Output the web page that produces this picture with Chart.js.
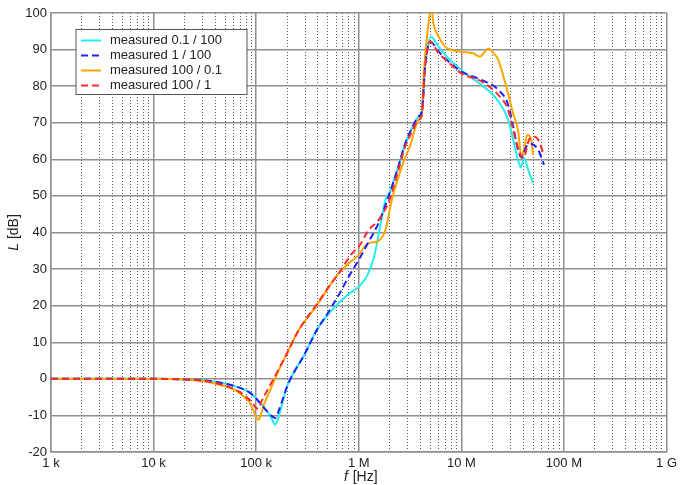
<!DOCTYPE html>
<html>
<head>
<meta charset="utf-8">
<script src="https://cdn.jsdelivr.net/npm/chart.js@4.4.1/dist/chart.umd.min.js"></script>
<style>
  html, body { margin: 0; padding: 0; background: #fff; }
</style>
</head>
<body>
<canvas id="chart" width="681" height="485"></canvas>
<script>
// series names
const seriesLabels = ['measured 0.1 / 100', 'measured 1 / 100', 'measured 100 / 0.1', 'measured 100 / 1'];

// measured 0.1 / 100 (frequency in Hz, level in dB)
const cyanFreq = [1e3, 1e4, 2e4, 3e4, 43.7e3, 63.5e3, 88e3, 106e3, 128e3, 142e3, 154e3, 165e3, 180e3, 200e3, 300e3, 391e3, 500e3, 640e3, 800e3, 1e6, 1.2e6, 1.4e6, 1.6e6, 1.82e6, 2e6, 2.4e6, 2.84e6, 3.3e6, 3.83e6, 4.12e6, 4.44e6, 5.08e6, 5.98e6, 7e6, 10e6, 15.7e6, 21.2e6, 28.6e6, 32e6, 35.7e6, 38e6, 40.9e6, 45e6, 50e6];
const cyanLevel = [0, 0, -0.15, -0.4, -1, -2.1, -3.9, -6.2, -8.9, -11, -12.5, -10.5, -6.6, -2.1, 7, 13.4, 17.5, 20.8, 23.2, 25.2, 28, 33, 41, 48.9, 51, 57.5, 64.4, 68.5, 71.7, 73, 86, 93.5, 90.8, 88.5, 84.4, 80.3, 77.1, 70.8, 65.3, 59.8, 57.8, 60.3, 57, 53.5];

// measured 1 / 100
const blueFreq = [1e3, 1e4, 2e4, 3e4, 43.7e3, 63.5e3, 88e3, 106e3, 128e3, 142e3, 154e3, 167e3, 182e3, 200e3, 300e3, 391e3, 500e3, 640e3, 800e3, 1e6, 1.25e6, 1.56e6, 1.95e6, 2.4e6, 2.84e6, 3.3e6, 3.83e6, 4.12e6, 4.44e6, 4.96e6, 6e6, 7e6, 10e6, 15.7e6, 22.9e6, 28.6e6, 32e6, 35.7e6, 38.5e6, 43e6, 48e6, 56e6, 64e6];
const blueLevel = [0, 0, -0.15, -0.4, -1, -2.1, -3.9, -6.2, -8.9, -10.2, -10.7, -8.5, -5.5, -2.1, 7, 13.4, 18, 23, 28, 32.5, 37.5, 42.6, 49.8, 57.5, 64.4, 68.5, 71.7, 73, 85.3, 92.2, 89.5, 87.5, 84, 81.7, 79, 74.9, 69, 62.6, 60.5, 63.5, 64.2, 62.6, 58.5];

// measured 100 / 0.1
const orangeFreq = [1e3, 1e4, 2e4, 3e4, 43.7e3, 63.5e3, 79e3, 88e3, 95e3, 100e3, 105e3, 110e3, 120e3, 133e3, 150e3, 167e3, 200e3, 261e3, 400e3, 512e3, 640e3, 800e3, 1e6, 1.17e6, 1.35e6, 1.51e6, 1.82e6, 2.1e6, 2.63e6, 3.18e6, 3.83e6, 4.12e6, 4.28e6, 4.78e6, 5.1e6, 5.35e6, 6e6, 6.95e6, 8.1e6, 10e6, 13e6, 15.2e6, 17e6, 18.3e6, 20e6, 22.9e6, 25.5e6, 28.6e6, 32e6, 35.7e6, 38.5e6, 41e6, 44e6, 48e6, 50e6];
const orangeLevel = [0, 0, -0.2, -0.6, -1.6, -3.2, -5.3, -6.8, -9, -10.6, -11.2, -10.2, -6.8, -3.9, -0.5, 2.5, 7, 13.4, 20.5, 25.2, 28.9, 31.6, 33.9, 36.6, 37.3, 37.5, 40.7, 48.9, 58, 63.9, 70.8, 72, 82.6, 97.2, 101.5, 97, 93.6, 90.8, 89.9, 89.4, 89, 88.1, 89.5, 90.3, 89.5, 87.2, 83, 78, 72.5, 68, 60.7, 63, 66.7, 65.3, 61.2];

// measured 100 / 1
const redFreq = [1e3, 1e4, 2e4, 3e4, 43.7e3, 63.5e3, 79e3, 92e3, 100e3, 105e3, 111e3, 124e3, 140e3, 167e3, 200e3, 261e3, 400e3, 512e3, 640e3, 861e3, 1e6, 1.25e6, 1.56e6, 2e6, 2.4e6, 2.84e6, 3.3e6, 3.83e6, 4.12e6, 4.44e6, 4.96e6, 6e6, 7e6, 10e6, 15.7e6, 22.9e6, 28.6e6, 32e6, 35.7e6, 40e6, 46.4e6, 52e6, 57e6, 62.5e6];
const redLevel = [0, 0, -0.2, -0.5, -1.4, -3, -4.8, -6.6, -8, -8.2, -6.6, -3.9, -1.2, 2.8, 7, 13.4, 20.8, 25.2, 28.9, 34.3, 36.1, 40.7, 43.4, 49, 56.5, 63.5, 67.5, 70.8, 72, 85.3, 92.2, 89, 87.3, 83.5, 81.3, 77.6, 73.5, 68, 63, 60.3, 65.7, 66.2, 65, 62];

// axis ticks
const xDecades = [1e3, 1e4, 1e5, 1e6, 1e7, 1e8, 1e9];
const xTickLabels = ['1 k', '10 k', '100 k', '1 M', '10 M', '100 M', '1 G'];
const yMin = -20, yMax = 100, yStep = 5;

const colors = ['#22eeee', '#2020ff', '#ffa500', '#ff2a2a'];
const dashes = [[], [7, 4], [], [7, 4]];
const drawOrder = [4, 2, 3, 1];

const toPoints = (fs, ls) => fs.map((f, i) => ({ x: f, y: ls[i] }));
const allSeries = [
  toPoints(cyanFreq, cyanLevel),
  toPoints(blueFreq, blueLevel),
  toPoints(orangeFreq, orangeLevel),
  toPoints(redFreq, redLevel)
];

const isDecade = v => Math.abs(Math.log10(v) - Math.round(Math.log10(v))) < 1e-6;
const FONT = '"Liberation Sans", Arial, sans-serif';
const MAJOR = '#8f8f8f';
const MINOR = '#555';

// legend box inside the plot + axis titles with italic symbols
const overlay = {
  id: 'overlay',
  afterDraw(chart) {
    const { ctx, chartArea } = chart;
    ctx.save();

    const bx = chartArea.left + 25, by = chartArea.top + 16.5;
    ctx.fillStyle = '#fff';
    ctx.fillRect(bx, by, 171, 65);
    ctx.strokeStyle = '#555';
    ctx.lineWidth = 1;
    ctx.strokeRect(bx, by, 171, 65);
    ctx.font = '13px ' + FONT;
    ctx.textBaseline = 'middle';
    chart.data.datasets.forEach((ds, i) => {
      const y = by + 11 + i * 15;
      ctx.beginPath();
      ctx.setLineDash(ds.borderDash || []);
      ctx.strokeStyle = ds.borderColor;
      ctx.lineWidth = 2;
      ctx.moveTo(bx + 5, y);
      ctx.lineTo(bx + 25, y);
      ctx.stroke();
      ctx.setLineDash([]);
      ctx.fillStyle = '#222';
      ctx.fillText(ds.label, bx + 34, y);
    });

    // x title: f [Hz]
    ctx.fillStyle = '#222';
    ctx.textBaseline = 'middle';
    const it = 'italic 14px ' + FONT, nm = '14px ' + FONT;
    ctx.font = it; const wf = ctx.measureText('f ').width + 1;
    ctx.font = nm; const wh = ctx.measureText('[Hz]').width;
    let x0 = (chartArea.left + chartArea.right) / 2 - (wf + wh) / 2 + 2;
    ctx.font = it; ctx.fillText('f', x0, 477);
    ctx.font = nm; ctx.fillText('[Hz]', x0 + wf, 477);

    // y title: L [dB]
    ctx.translate(14, (chartArea.top + chartArea.bottom) / 2);
    ctx.rotate(-Math.PI / 2);
    ctx.font = it; const wl = ctx.measureText('L ').width;
    ctx.font = nm; const wd = ctx.measureText('[dB]').width;
    x0 = -(wl + wd) / 2;
    ctx.font = it; ctx.fillText('L', x0, 0);
    ctx.font = nm; ctx.fillText('[dB]', x0 + wl, 0);
    ctx.restore();
  }
};

new Chart(document.getElementById('chart'), {
  type: 'line',
  data: {
    datasets: allSeries.map((pts, i) => ({
      label: seriesLabels[i],
      data: pts,
      borderColor: colors[i],
      borderDash: dashes[i],
      borderWidth: 2,
      pointRadius: 0,
      fill: false,
      cubicInterpolationMode: 'monotone',
      order: drawOrder[i],
      clip: 0
    }))
  },
  options: {
    responsive: false,
    animation: false,
    layout: { padding: { top: 13, right: 12, left: 0, bottom: 0 } },
    plugins: { legend: { display: false }, tooltip: { enabled: false } },
    scales: {
      x: {
        type: 'logarithmic',
        min: xDecades[0],
        max: xDecades[xDecades.length - 1],
        afterBuildTicks: s => {
          const t = [];
          for (let d = 0; d < xDecades.length - 1; d++)
            for (let m = 1; m <= 9; m++) t.push({ value: xDecades[d] * m });
          t.push({ value: xDecades[xDecades.length - 1] });
          s.ticks = t;
        },
        afterFit: s => { s.height = 33; },
        ticks: {
          autoSkip: false,
          maxRotation: 0,
          padding: 4,
          color: '#222',
          font: { family: FONT, size: 13 },
          callback: v => {
            const k = xDecades.findIndex(d => Math.abs(d - v) / d < 1e-6);
            return k >= 0 ? xTickLabels[k] : '';
          }
        },
        grid: {
          drawTicks: false,
          color: c => (c.tick && isDecade(c.tick.value)) ? MAJOR : MINOR,
          lineWidth: c => (c.tick && isDecade(c.tick.value)) ? 1.5 : 1
        },
        border: {
          color: MAJOR,
          width: 1.5,
          dash: c => (c.tick && !isDecade(c.tick.value)) ? [1, 2] : []
        }
      },
      y: {
        min: yMin,
        max: yMax,
        afterFit: s => { s.width = 51; },
        ticks: {
          stepSize: yStep,
          padding: 4,
          color: '#222',
          font: { family: FONT, size: 13 },
          callback: v => (v % 10 === 0 ? String(v) : '')
        },
        grid: {
          drawTicks: false,
          color: c => (c.tick && c.tick.value % 10 === 0) ? MAJOR : MINOR,
          lineWidth: c => (c.tick && c.tick.value % 10 === 0) ? 1.5 : 1
        },
        border: {
          color: MAJOR,
          width: 1.5,
          dash: c => (c.tick && c.tick.value % 10 !== 0) ? [1, 2] : []
        }
      }
    }
  },
  plugins: [overlay]
});
</script>
</body>
</html>
